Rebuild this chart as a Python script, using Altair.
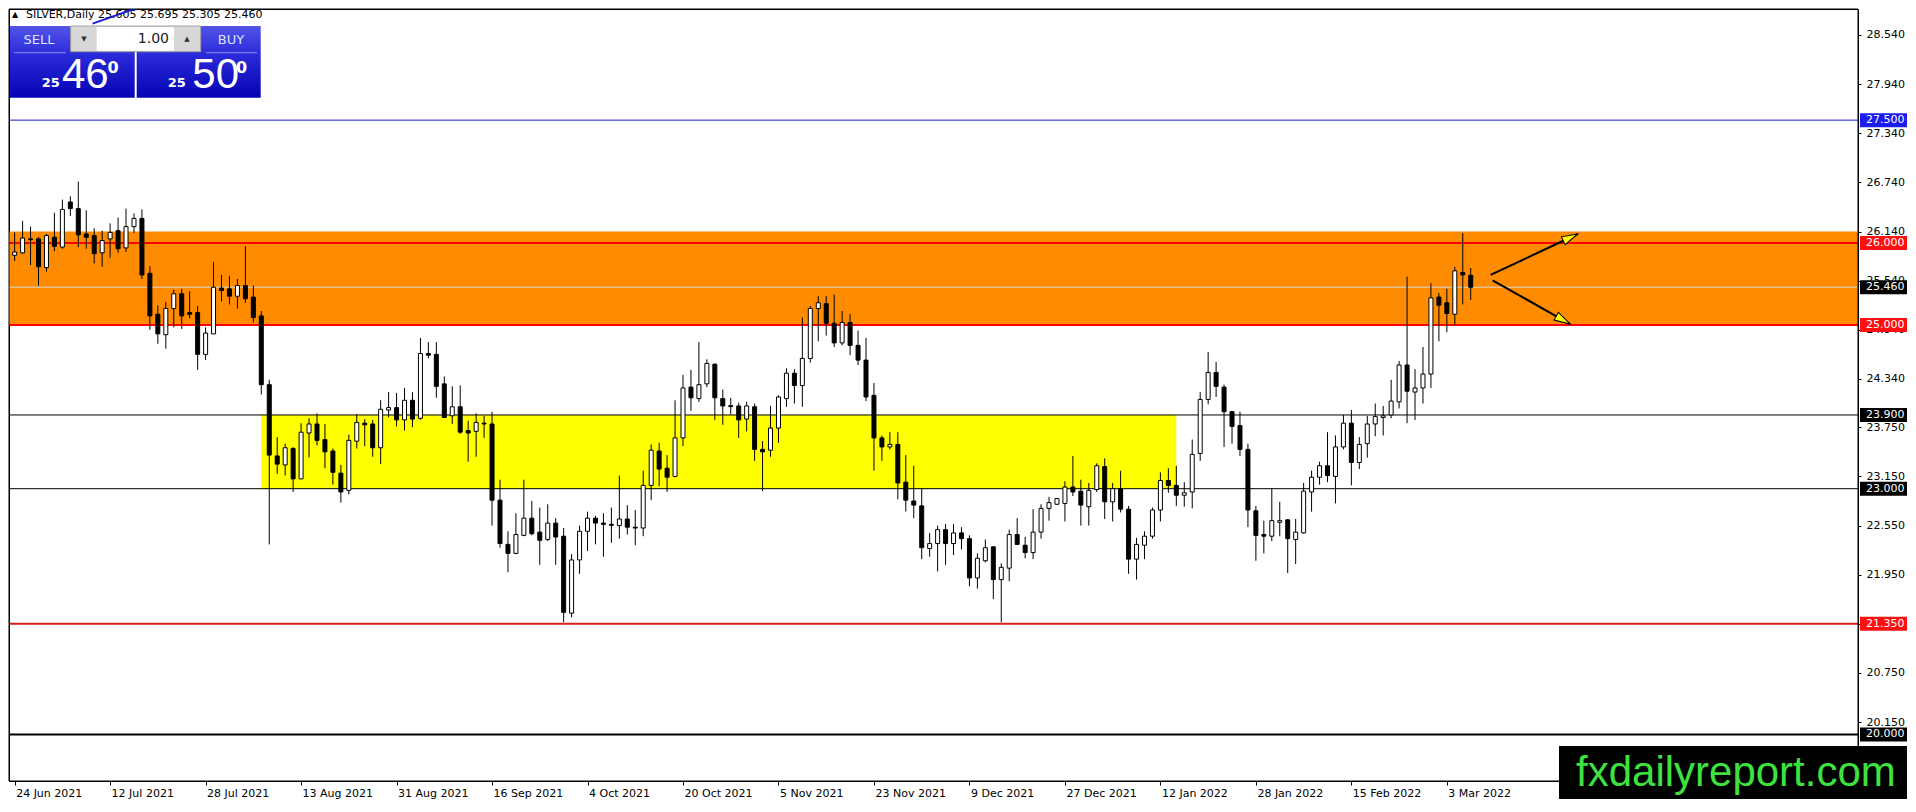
import json
import math
import altair as alt
import pandas as pd

# ---------------- data ----------------
opens = [25.85, 25.88, 26.05, 26.05, 25.70, 26.07, 25.95, 26.50, 26.42, 26.11,
         26.09, 25.88, 26.05, 26.15, 25.94, 26.20, 26.30, 25.63, 25.13, 24.88,
         25.20, 25.38, 25.15, 25.15, 24.64, 24.89, 25.45, 25.44, 25.35, 25.48,
         25.34, 25.11, 24.27, 23.40, 23.29, 23.49, 23.12, 23.68, 23.79, 23.60,
         23.46, 23.19, 22.98, 23.58, 23.80, 23.79, 23.50, 23.96, 23.99, 23.84,
         24.08, 23.86, 24.65, 24.64, 24.28, 23.89, 24.00, 23.71, 23.70, 23.80,
         23.79, 22.86, 22.32, 22.21, 22.43, 22.64, 22.47, 22.38, 22.58, 22.42,
         21.48, 22.13, 22.48, 22.64, 22.58, 22.565, 22.55, 22.63, 22.53, 22.52,
         23.04, 23.46, 23.25, 23.15, 23.62, 24.24, 24.10, 24.28, 24.52, 24.10,
         24.014, 24.01, 23.85, 24.00, 23.48, 23.47, 23.74, 24.10, 24.41, 24.26,
         24.59, 25.20, 25.26, 25.02, 24.78, 25.03, 24.75, 24.57, 24.14, 23.62,
         23.51, 23.54, 23.08, 22.85, 22.79, 22.27, 22.33, 22.50, 22.33, 22.46,
         22.39, 21.91, 22.12, 22.29, 21.89, 22.03, 22.44, 22.31, 22.22, 22.47,
         22.76, 22.81, 22.82, 23.02, 22.97, 22.78, 22.99, 23.27, 22.84, 23.00,
         22.75, 22.14, 22.31, 22.42, 22.74, 23.10, 23.04, 22.92, 22.96, 23.43,
         24.09, 24.42, 24.24, 23.94, 23.77, 23.48, 22.73, 22.44, 22.42, 22.59,
         22.62, 22.38, 22.46, 22.96, 23.14, 23.28, 23.15, 23.51, 23.80, 23.32,
         23.55, 23.79, 23.87, 23.90, 24.06, 24.51, 24.18, 24.23, 24.40, 25.34,
         25.27, 25.13, 25.64, 25.605]
highs = [26.13, 26.27, 26.20, 26.07, 26.11, 26.37, 26.53, 26.57, 26.75, 26.40,
         26.18, 26.15, 26.24, 26.31, 26.42, 26.36, 26.41, 25.72, 25.24, 25.28,
         25.43, 25.44, 25.41, 25.23, 24.97, 25.77, 25.61, 25.60, 25.56, 25.96,
         25.48, 25.17, 24.33, 23.63, 23.55, 23.51, 23.80, 23.86, 23.92, 23.79,
         23.49, 23.29, 23.66, 23.91, 23.85, 23.84, 24.08, 24.18, 24.17, 24.23,
         24.18, 24.84, 24.79, 24.79, 24.37, 24.25, 24.26, 23.83, 23.92, 23.89,
         23.94, 23.11, 22.48, 22.70, 23.11, 22.85, 22.77, 22.81, 22.64, 22.52,
         22.20, 22.55, 22.72, 22.67, 22.70, 22.77, 23.16, 22.80, 22.74, 23.22,
         23.54, 23.56, 23.41, 24.08, 24.39, 24.45, 24.79, 24.58, 24.53, 24.21,
         24.11, 24.05, 24.06, 24.04, 23.58, 24.01, 24.14, 24.47, 24.46, 25.09,
         25.23, 25.35, 25.35, 25.37, 25.17, 25.13, 24.93, 24.84, 24.29, 23.65,
         23.69, 23.69, 23.41, 23.28, 23.01, 22.46, 22.55, 22.57, 22.57, 22.53,
         22.43, 22.21, 22.38, 22.30, 22.09, 22.50, 22.64, 22.41, 22.75, 22.81,
         22.90, 22.88, 23.09, 23.40, 23.11, 23.07, 23.31, 23.37, 23.07, 23.22,
         22.79, 22.40, 22.48, 22.77, 23.20, 23.25, 23.28, 23.08, 23.60, 24.18,
         24.67, 24.55, 24.27, 23.95, 23.94, 23.55, 22.79, 22.61, 23.00, 22.84,
         22.63, 22.63, 23.07, 23.22, 23.33, 23.69, 23.65, 23.90, 23.96, 23.63,
         23.89, 24.04, 24.01, 24.33, 24.56, 25.59, 24.46, 24.73, 25.51, 25.39,
         25.44, 25.71, 26.12, 25.695]
lows = [25.78, 25.87, 25.73, 25.48, 25.65, 25.90, 25.93, 26.33, 25.95, 25.93,
        25.75, 25.71, 25.82, 25.88, 25.89, 26.12, 25.56, 24.94, 24.77, 24.71,
        24.97, 24.95, 25.08, 24.45, 24.57, 24.89, 25.29, 25.25, 25.20, 25.27,
        25.03, 24.15, 22.32, 23.18, 23.16, 22.96, 23.12, 23.38, 23.53, 23.25,
        23.05, 22.83, 22.93, 23.49, 23.52, 23.39, 23.30, 23.87, 23.76, 23.71,
        23.75, 23.84, 24.59, 24.11, 23.87, 23.79, 23.67, 23.33, 23.39, 23.62,
        22.55, 22.28, 21.98, 22.20, 22.42, 22.43, 22.07, 22.36, 22.07, 21.37,
        21.43, 21.96, 22.24, 22.32, 22.17, 22.34, 22.39, 22.44, 22.31, 22.42,
        22.86, 23.03, 22.96, 23.14, 23.52, 23.95, 24.06, 24.24, 23.84, 23.78,
        23.91, 23.62, 23.70, 23.34, 22.97, 23.39, 23.56, 24.00, 24.04, 24.00,
        24.54, 24.80, 24.87, 24.73, 24.75, 24.63, 24.51, 24.07, 23.22, 23.34,
        23.48, 22.87, 22.72, 22.64, 22.14, 22.17, 21.99, 22.07, 22.19, 22.26,
        21.81, 21.78, 22.10, 21.65, 21.37, 21.87, 22.31, 22.15, 22.14, 22.39,
        22.61, 22.80, 22.60, 22.91, 22.55, 22.55, 22.96, 22.63, 22.60, 22.71,
        21.96, 21.89, 22.14, 22.39, 22.60, 22.95, 22.79, 22.78, 22.76, 23.34,
        24.03, 24.12, 23.51, 23.55, 23.40, 22.53, 22.12, 22.21, 22.36, 22.42,
        21.97, 22.08, 22.45, 22.72, 23.05, 23.08, 22.82, 23.48, 23.04, 23.24,
        23.38, 23.64, 23.65, 23.86, 23.98, 23.80, 23.84, 24.04, 24.23, 24.80,
        24.91, 25.00, 25.25, 25.305]
closes = [25.89, 26.06, 26.04, 25.71, 26.09, 25.96, 26.41, 26.42, 26.10, 26.07,
          25.87, 26.03, 26.13, 25.93, 26.20, 26.30, 25.61, 25.11, 24.89, 25.20,
          25.38, 25.11, 25.13, 24.64, 24.90, 25.46, 25.42, 25.35, 25.48, 25.32,
          25.09, 24.27, 23.41, 23.30, 23.50, 23.12, 23.69, 23.79, 23.59, 23.45,
          23.20, 22.96, 23.59, 23.81, 23.78, 23.50, 23.97, 23.99, 23.84, 24.08,
          23.85, 24.65, 24.63, 24.25, 23.87, 24.00, 23.69, 23.68, 23.81, 23.79,
          22.86, 22.33, 22.21, 22.44, 22.64, 22.45, 22.37, 22.58, 22.41, 21.49,
          22.13, 22.48, 22.64, 22.58, 22.565, 22.553, 22.63, 22.53, 22.52, 23.04,
          23.47, 23.24, 23.14, 23.62, 24.23, 24.11, 24.27, 24.53, 24.11, 24.01,
          24.002, 23.84, 24.01, 23.48, 23.45, 23.74, 24.12, 24.41, 24.26, 24.59,
          25.20, 25.27, 25.02, 24.78, 25.03, 24.75, 24.57, 24.12, 23.62, 23.51,
          23.54, 23.07, 22.86, 22.80, 22.28, 22.33, 22.50, 22.33, 22.46, 22.39,
          21.91, 22.15, 22.28, 21.89, 22.04, 22.44, 22.32, 22.22, 22.47, 22.76,
          22.83, 22.88, 23.02, 22.96, 22.80, 22.98, 23.28, 22.84, 23.00, 22.75,
          22.14, 22.32, 22.42, 22.74, 23.10, 23.04, 22.92, 22.95, 23.42, 24.09,
          24.42, 24.25, 23.94, 23.76, 23.48, 22.74, 22.43, 22.42, 22.61, 22.61,
          22.39, 22.47, 22.97, 23.14, 23.28, 23.16, 23.51, 23.80, 23.32, 23.54,
          23.79, 23.88, 23.89, 24.07, 24.51, 24.19, 24.23, 24.40, 25.33, 25.24,
          25.14, 25.66, 25.61, 25.46]

date_labels = ["24 Jun 2021", "12 Jul 2021", "28 Jul 2021", "13 Aug 2021",
               "31 Aug 2021", "16 Sep 2021", "4 Oct 2021", "20 Oct 2021",
               "5 Nov 2021", "23 Nov 2021", "9 Dec 2021", "27 Dec 2021",
               "12 Jan 2022", "28 Jan 2022", "15 Feb 2022", "3 Mar 2022"]
label_step = 12
price_ticks = [28.54, 27.94, 27.34, 26.74, 26.14, 25.54, 24.94, 24.34,
               23.75, 23.15, 22.55, 21.95, 21.35, 20.75, 20.15]

level_prices = [27.5, 26.0, 25.46, 25.0, 23.9, 23.0, 21.35, 20.0]
level_colors = ["#1818c0", "#ff0000", "#d6d6d6", "#ff0000",
                "#000000", "#000000", "#d42020", "#000000"]
level_widths = [1, 2, 1, 2, 1, 1, 2, 2]
tag_colors = ["#1c1cf0", "#ff1010", "#000000", "#ff1010",
              "#000000", "#000000", "#ff1010", "#000000"]

zone_low = [25.0, 23.0]
zone_high = [26.14, 23.9]
zone_from = [-10, 31]
zone_to = [260, 146]
zone_colors = ["#ff8c00", "#ffff00"]

arrow_x1 = [185.5, 185.75]
arrow_y1 = [25.61, 25.545]
arrow_x2 = [196.45, 195.5]
arrow_y2 = [26.11, 25.01]

trend_x = [9.8, 16.7]
trend_y = [28.678, 28.915]

header = "SILVER,Daily  25.605 25.695 25.305 25.460"
big_prefix = "25"
sell_digits = "46"
buy_digits = "50"
pip_digit = "0"
lot_size = "1.00"
watermark = "fxdailyreport.com"

# ---------------- layout ----------------
W, H = 1849, 772
PX_PER_BAR = 8
X_MIN = -0.08
X_MAX = X_MIN + W / PX_PER_BAR
Y_MAX = 28.857
Y_MIN = 19.431
PPU = H / (Y_MAX - Y_MIN)
FONT = "DejaVu Sans"

xs = alt.Scale(domain=[X_MIN, X_MAX], nice=False, zero=False)
ys = alt.Scale(domain=[Y_MIN, Y_MAX], nice=False, zero=False)
tick_idx = list(range(0, len(opens), label_step))[:len(date_labels)]
x_axis = alt.Axis(values=tick_idx,
                  labelExpr=f"{json.dumps(date_labels)}[round(datum.value / {label_step})]",
                  title=None, grid=False, tickSize=4, tickColor="black",
                  domainColor="black", labelColor="black", labelFont=FONT,
                  labelFontSize=11, labelAlign="left", labelPadding=2,
                  labelOffset=1, labelFlush=False, labelOverlap=False)
y_axis = alt.Axis(orient="right", values=price_ticks, format=".3f", title=None,
                  grid=False, tickSize=3, tickColor="black", domainColor="black",
                  labelColor="black", labelFont=FONT, labelFontSize=11,
                  labelPadding=5, labelFlush=False, labelOverlap=False)


def X(f):
    return alt.X(f"{f}:Q", scale=xs, axis=x_axis)


def Y(f):
    return alt.Y(f"{f}:Q", scale=ys, axis=y_axis)


candles = pd.DataFrame({"i": list(range(len(opens))), "o": opens, "h": highs,
                        "l": lows, "c": closes})
candles["fill"] = ["#ffffff" if c >= o else "#000000" for o, c in zip(opens, closes)]

zones = pd.DataFrame({"x0": zone_from, "x1": zone_to, "lo": zone_low,
                      "hi": zone_high, "col": zone_colors})
levels = pd.DataFrame({"p": level_prices, "col": level_colors, "w": level_widths})
half = 7 / PPU
tags = pd.DataFrame({"p": level_prices, "bg": tag_colors,
                     "lo": [p - half for p in level_prices],
                     "hi": [p + half for p in level_prices],
                     "label": [f"{p:.3f}" for p in level_prices]})
angles = []
for a, b, c, d in zip(arrow_x1, arrow_y1, arrow_x2, arrow_y2):
    dx = (c - a) * PX_PER_BAR
    dy = -(d - b) * PPU
    angles.append(math.degrees(math.atan2(dy, dx)) % 360)
arrows = pd.DataFrame({"x1": arrow_x1, "y1": arrow_y1, "x2": arrow_x2,
                       "y2": arrow_y2, "ang": angles})
trend = pd.DataFrame({"x": trend_x, "y": trend_y})
one = pd.DataFrame({"k": [0]})

layers = []
layers.append(alt.Chart(zones).mark_rect(clip=True).encode(
    x=X("x0"), x2="x1", y=Y("lo"), y2="hi", fill=alt.Fill("col:N", scale=None)))
layers.append(alt.Chart(levels).mark_rule(clip=True).encode(
    y=Y("p"), color=alt.Color("col:N", scale=None),
    strokeWidth=alt.StrokeWidth("w:Q", scale=None)))
layers.append(alt.Chart(one).mark_rect(fillOpacity=0, stroke="black", strokeWidth=1).encode(
    x=alt.value(0), x2=alt.value(W), y=alt.value(0), y2=alt.value(H)))
# header text
layers.append(alt.Chart(one).mark_text(font=FONT, fontSize=8, color="black").encode(
    x=alt.value(6), y=alt.value(6), text=alt.value("▲")))
layers.append(alt.Chart(one).mark_text(font=FONT, fontSize=11, color="black",
                                       align="left", baseline="middle").encode(
    x=alt.value(17), y=alt.value(6), text=alt.value(header)))
layers.append(alt.Chart(trend).mark_line(clip=True, color="#1a1ad0", strokeWidth=2).encode(
    x=X("x"), y=Y("y")))
# candles
layers.append(alt.Chart(candles).mark_rule(color="black", strokeWidth=1, clip=True).encode(
    x=X("i"), y=Y("l"), y2="h"))
layers.append(alt.Chart(candles).mark_bar(size=4, stroke="black", strokeWidth=1, clip=True).encode(
    x=X("i"), y=Y("o"), y2="c", fill=alt.Fill("fill:N", scale=None)))
# arrows
layers.append(alt.Chart(arrows).mark_rule(color="black", strokeWidth=2).encode(
    x=X("x1"), x2="x2", y=Y("y1"), y2="y2"))
layers.append(alt.Chart(arrows).mark_point(
    shape="M 0 0 L -2 -0.55 L -2 0.55 Z", filled=True, fill="#ffff00", stroke="black",
    strokeWidth=1, size=256, opacity=1).encode(
    x=X("x2"), y=Y("y2"), angle=alt.Angle("ang:Q", scale=None)))
# price tags
layers.append(alt.Chart(tags).mark_rect().encode(
    x=alt.value(W + 2), x2=alt.value(W + 49), y=Y("lo"), y2="hi",
    fill=alt.Fill("bg:N", scale=None)))
layers.append(alt.Chart(tags).mark_text(font=FONT, fontSize=11, color="white",
                                        align="left", baseline="middle").encode(
    x=alt.value(W + 8), y=Y("p"), text="label:N"))

# one-click trading panel
grad = alt.Gradient(gradient="linear", x1=0, x2=0, y1=0, y2=1,
                    stops=[alt.GradientStop(color="#5454ea", offset=0),
                           alt.GradientStop(color="#2a2ad8", offset=0.4),
                           alt.GradientStop(color="#0404b4", offset=1)])


def box(x0, x1, y0, y1, **kw):
    return alt.Chart(one).mark_rect(**kw).encode(
        x=alt.value(x0), x2=alt.value(x1), y=alt.value(y0), y2=alt.value(y1))


def txt(s, x, y, size, color="white", align="center", baseline="middle",
        weight="normal", font=FONT):
    return alt.Chart(one).mark_text(font=font, fontSize=size, color=color, align=align,
                                    baseline=baseline, fontWeight=weight).encode(
        x=alt.value(x), y=alt.value(y), text=alt.value(s))


def hline(x0, x1, y, color):
    return alt.Chart(one).mark_rule(color=color, strokeWidth=1).encode(
        x=alt.value(x0), x2=alt.value(x1), y=alt.value(y))


layers += [
    box(1, 125.7, 17, 88.7, fill=grad),
    box(127.7, 251.7, 17, 88.7, fill=grad),
    box(61.7, 191.7, 17, 42.7, fill="#d8d8d8", stroke="#a0a0a0", strokeWidth=1),
    box(87.7, 165, 18, 41.7, fill="#ffffff"),
    txt("▼", 75, 30, 7, color="#303030"),
    txt("▲", 178, 30, 7, color="#303030"),
    txt(lot_size, 160, 30, 14, color="#202020", align="right"),
    txt("SELL", 30, 31, 13, color="#dfe4ff"),
    txt("BUY", 222, 31, 13, color="#dfe4ff"),
    hline(5, 57, 43.7, "#8c8cf4"),
    hline(197, 248, 43.7, "#8c8cf4"),
    txt(big_prefix, 41.7, 74, 13, weight="bold"),
    txt(sell_digits, 53, 79.3, 42, align="left", baseline="alphabetic",
        font="Liberation Sans"),
    txt(pip_digit, 98.5, 63.7, 16, align="left", baseline="alphabetic", weight="bold"),
    txt(big_prefix, 167.7, 74, 13, weight="bold"),
    txt(buy_digits, 183.3, 79.3, 42, align="left", baseline="alphabetic",
        font="Liberation Sans"),
    txt(pip_digit, 227, 63.7, 16, align="left", baseline="alphabetic", weight="bold"),
]

# watermark
layers += [
    box(1550, W + 49, 737, 790, fill="#000000"),
    txt(watermark, 1567, 777, 42, color="#3ee23e", align="left",
        baseline="alphabetic", font="Liberation Sans"),
]

chart = alt.layer(*layers).properties(width=W, height=H, padding=0).configure(
    background="white").configure_view(stroke="black", strokeWidth=1)

chart.save("out.html", embed_options={"renderer": "svg", "actions": False})
